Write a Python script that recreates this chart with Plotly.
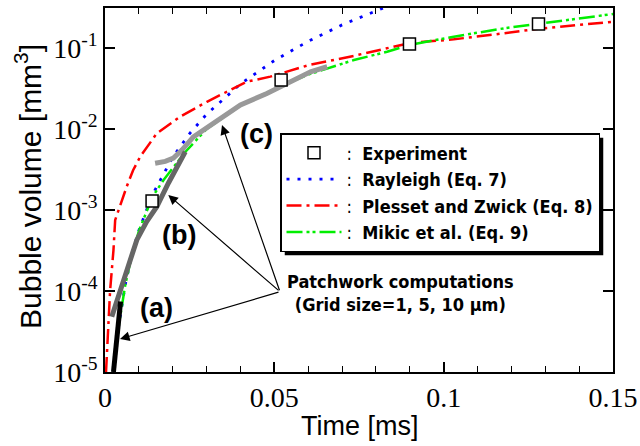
import plotly.graph_objects as go

# ---------------- data ----------------
t_exp = [0.0139, 0.052, 0.0899, 0.128]
v_exp = [1.29e-3, 0.0403, 0.112, 0.198]

t_ray = [0.0026, 0.004, 0.006, 0.008, 0.010, 0.014, 0.020, 0.025, 0.030, 0.040, 0.050, 0.060, 0.070, 0.080, 0.0825]
v_ray = [1.0e-5, 3.6e-5, 1.21e-4, 2.9e-4, 5.6e-4, 1.54e-3, 4.5e-3, 8.8e-3, 0.0152, 0.036, 0.070, 0.121, 0.193, 0.288, 0.316]

t_pz = [0.0003, 0.001, 0.0015, 0.0025, 0.0030, 0.0064, 0.0083, 0.0104, 0.0153, 0.0222, 0.0301, 0.0419, 0.0488, 0.0602, 0.0735, 0.0899, 0.103, 0.1178, 0.128, 0.150]
v_pz = [1.0e-5, 4.4e-5, 1.0e-4, 3.2e-4, 7.5e-4, 1.94e-3, 3.1e-3, 4.55e-3, 8.85e-3, 0.0142, 0.0217, 0.0384, 0.0443, 0.0616, 0.080, 0.115, 0.128, 0.152, 0.173, 0.211]

t_mk = [0.0026, 0.004, 0.006, 0.008, 0.010, 0.014, 0.0173, 0.0237, 0.030, 0.040, 0.050, 0.060, 0.0735, 0.0833, 0.0899, 0.103, 0.1178, 0.128, 0.150]
v_mk = [1.0e-5, 3.6e-5, 1.2e-4, 2.85e-4, 5.5e-4, 1.45e-3, 2.35e-3, 5.2e-3, 0.0100, 0.0195, 0.031, 0.047, 0.0711, 0.090, 0.109, 0.138, 0.175, 0.200, 0.263]

# patchwork computations
t_a = [0.0025, 0.0046]
v_a = [1.0e-5, 7.4e-5]
t_b = [0.0020, 0.0059, 0.0094, 0.0123, 0.0153, 0.0187, 0.0212, 0.0237]
v_b = [4.8e-5, 1.5e-4, 4.27e-4, 7.2e-4, 1.1e-3, 2.14e-3, 3.43e-3, 5.24e-3]
t_c = [0.0148, 0.0178, 0.0202, 0.0227, 0.0261, 0.032, 0.040, 0.0478, 0.0537, 0.0607, 0.0656]
v_c = [3.77e-3, 3.98e-3, 4.37e-3, 5.5e-3, 8.0e-3, 0.0117, 0.0198, 0.0275, 0.0367, 0.0509, 0.0587]

x_tickvals = [0, 0.05, 0.1, 0.15]
x_ticktext = ["0", "0.05", "0.1", "0.15"]
y_tickvals = [1e-5, 1e-4, 1e-3, 1e-2, 1e-1]
y_ticktext = ["10<sup>-5</sup>", "10<sup>-4</sup>", "10<sup>-3</sup>", "10<sup>-2</sup>", "10<sup>-1</sup>"]

# ---------------- figure ----------------
NB = "\u00a0"
LEG_FONT = "DejaVu Sans Condensed, Liberation Sans Narrow, Roboto, sans-serif"
fig = go.Figure()
fig.add_trace(go.Scatter(x=t_ray, y=v_ray, mode="lines", name=":" + NB * 2 + "<b>Rayleigh (Eq. 7)</b>", legendrank=2,
                         line=dict(color="#0000ff", width=2.8, dash="3px,8px")))
fig.add_trace(go.Scatter(x=t_pz, y=v_pz, mode="lines", name=":" + NB * 2 + "<b>Plesset and Zwick (Eq. 8)</b>", legendrank=3,
                         line=dict(color="#ff0000", width=2.5, dash="15px,5px,3px,5px")))
fig.add_trace(go.Scatter(x=t_mk, y=v_mk, mode="lines", name=":" + NB * 2 + "<b>Mikic et al. (Eq. 9)</b>", legendrank=4,
                         line=dict(color="#00ee00", width=2.5, dash="16px,4px,3px,3px,3px,4px")))
fig.add_trace(go.Scatter(x=t_c, y=v_c, mode="lines", showlegend=False,
                         line=dict(color="#999999", width=5)))
fig.add_trace(go.Scatter(x=t_b, y=v_b, mode="lines", showlegend=False,
                         line=dict(color="#666666", width=5)))
fig.add_trace(go.Scatter(x=t_a, y=v_a, mode="lines", showlegend=False,
                         line=dict(color="#000000", width=5)))
fig.add_trace(go.Scatter(x=t_exp, y=v_exp, mode="markers", name=":" + NB * 2 + "<b>Experiment</b>", legendrank=1,
                         marker=dict(symbol="square", size=12, color="white",
                                     line=dict(color="black", width=1.5))))

L, R, T, B = 105, 613, 8, 372
W, H = 640, 446
pw, ph = R - L, B - T

def px(xp):
    return (xp - L) / pw

def py(yp):
    return (B - yp) / ph

fig.update_layout(
    width=W, height=H,
    margin=dict(l=L, r=W - R, t=T, b=H - B, autoexpand=False),
    paper_bgcolor="white", plot_bgcolor="white",
    showlegend=True,
    legend=dict(x=px(280), y=py(133), xanchor="left", yanchor="top",
                bgcolor="white", bordercolor="black", borderwidth=1.5,
                font=dict(family=LEG_FONT, size=18, color="black"),
                itemwidth=55, traceorder="normal", tracegroupgap=0),
    font=dict(family="Liberation Serif, Times New Roman, serif", size=28, color="black"),
)

fig.update_xaxes(range=[0, 0.15], tickvals=x_tickvals, ticktext=x_ticktext, automargin=False,
                 ticks="inside", ticklen=10, tickwidth=1.5, tickcolor="black",
                 showline=True, linewidth=1.5, linecolor="black", mirror="ticks",
                 showgrid=False, zeroline=False,
                 minor=dict(dtick=0.01, ticks="inside", ticklen=6, tickwidth=1.2, tickcolor="black", showgrid=False),
                 tickfont=dict(family="Liberation Serif, Times New Roman, serif", size=28))
fig.update_yaxes(type="log", range=[-5, -0.506], tickvals=y_tickvals, ticktext=y_ticktext, automargin=False,
                 ticks="inside", ticklen=10, tickwidth=1.5, tickcolor="black",
                 showline=True, linewidth=1.5, linecolor="black", mirror="ticks",
                 showgrid=False, zeroline=False,
                 tickfont=dict(family="Liberation Serif, Times New Roman, serif", size=28))

# legend shadow (re-fitted to the drawn legend box by the page script below)
fig.add_shape(type="rect", xref="paper", yref="paper",
              x0=px(285), x1=px(607), y0=py(251), y1=py(137),
              fillcolor="black", line=dict(width=0), layer="above")

# axis titles
fig.add_annotation(text="Time [ms]", xref="paper", yref="paper", x=px(360), y=py(426),
                   showarrow=False, xanchor="center", yanchor="middle",
                   font=dict(family="Liberation Sans, Arial, sans-serif", size=27))
fig.add_annotation(text="Bubble volume [mm<sup>3</sup>]", xref="paper", yref="paper", x=px(28), y=py(187),
                   showarrow=False, xanchor="center", yanchor="middle", textangle=-90,
                   font=dict(family="Liberation Sans, Arial, sans-serif", size=30))

# labels (a), (b), (c)
lab_font = dict(family="Liberation Sans, Arial, sans-serif", size=27, color="black")
for txt, xp, yp in [("<b>(a)</b>", 156.7, 308.3), ("<b>(b)</b>", 179, 235), ("<b>(c)</b>", 256, 134)]:
    fig.add_annotation(text=txt, xref="paper", yref="paper", x=px(xp), y=py(yp),
                       showarrow=False, xanchor="center", yanchor="middle", font=lab_font)

# patchwork label
fig.add_annotation(text="<b>Patchwork computations<br>(Grid size=1, 5, 10 \u03bcm)</b>", xref="paper", yref="paper",
                   x=px(400), y=py(293), showarrow=False, xanchor="center", yanchor="middle",
                   font=dict(family=LEG_FONT, size=18, color="black"))

# arrows from the label to each computation
tail = (280, 291.7)
for tip in [(120, 339), (168.3, 195), (222, 125)]:
    fig.add_annotation(text="", xref="paper", yref="paper", x=px(tip[0]), y=py(tip[1]),
                       axref="pixel", ayref="pixel", ax=tail[0] - tip[0], ay=tail[1] - tip[1],
                       showarrow=True, arrowhead=2, arrowsize=1.6, arrowwidth=1.2, arrowcolor="black",
                       standoff=0, startstandoff=0)

post = """
document.body.style.margin='0';
document.body.style.overflow='hidden';
var gd = document.getElementById('{plot_id}');
try {
  var bg = gd.querySelector('g.legend rect.bg');
  var gr = gd.getBoundingClientRect();
  var r = bg.getBoundingClientRect();
  var s = gd._fullLayout._size;
  var off = 4;
  var upd = {
    'shapes[0].x0': (r.left - gr.left + off - s.l) / s.w,
    'shapes[0].x1': (r.right - gr.left + off - s.l) / s.w,
    'shapes[0].y1': 1 - (r.top - gr.top + off - s.t) / s.h,
    'shapes[0].y0': 1 - (r.bottom - gr.top + off - s.t) / s.h
  };
  Plotly.relayout(gd, upd);
} catch (e) {}
"""

fig.write_html("out.html", config={"displayModeBar": False}, post_script=post)
